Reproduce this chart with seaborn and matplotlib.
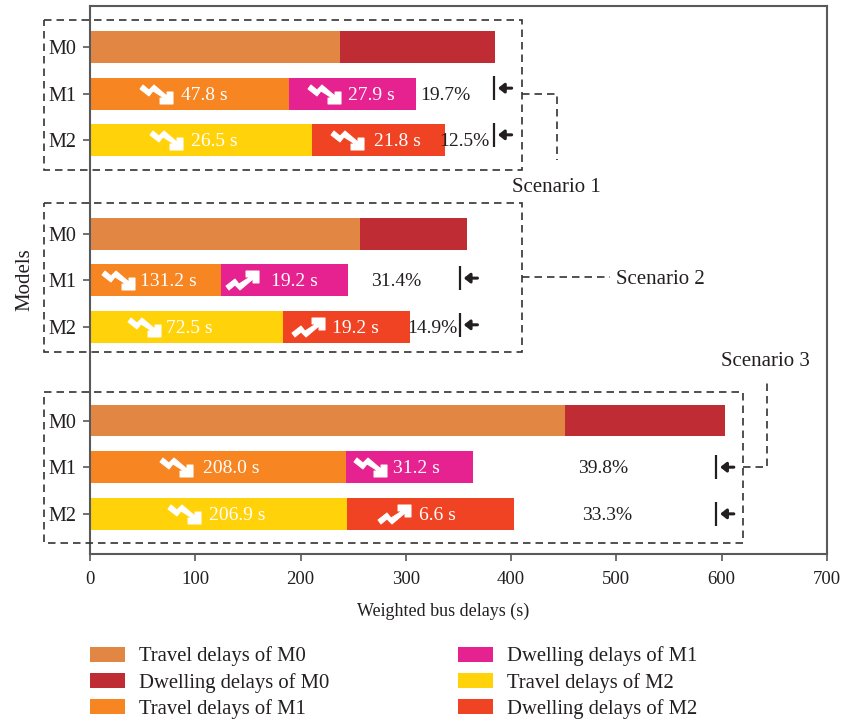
import pandas as pd
import seaborn as sns
import matplotlib.pyplot as plt
from matplotlib.patches import Patch, Rectangle
from matplotlib.path import Path

rows = [1, 2, 3, 5, 6, 7, 9, 10, 11]
models = ['M0', 'M1', 'M2'] * 3
travel = [237, 189, 211, 256, 124.5, 183, 451, 243, 244]
total = [385, 310, 337.5, 358, 245, 304, 603, 364, 403]

labels = ['Travel delays of M0', 'Dwelling delays of M0', 'Travel delays of M1',
          'Dwelling delays of M1', 'Travel delays of M2', 'Dwelling delays of M2']
colors = ['#e28743', '#c02c33', '#f68522', '#e62290', '#ffd20a', '#f04323']

# text inside the bars: row, x, string
bar_rows = [2, 2, 3, 3, 6, 6, 7, 7, 10, 10, 11, 11]
bar_x = [109, 267, 118, 292, 74.5, 194, 94, 252, 134, 310.5, 139.5, 330]
bar_text = ['47.8 s', '27.9 s', '26.5 s', '21.8 s', '131.2 s', '19.2 s',
            '72.5 s', '19.2 s', '208.0 s', '31.2 s', '206.9 s', '6.6 s']

# zigzag icons next to them
down_rows = [2, 2, 3, 3, 6, 7, 10, 10, 11]
down_x = [63, 222, 72, 244, 26.5, 51.5, 81.5, 266, 89.5]
up_rows = [6, 7, 11]
up_x = [144.5, 207, 289]

# reduction percentages
pct_rows = [2, 3, 6, 7, 10, 11]
pct_x = [337.5, 356, 291, 325.5, 487.5, 491]
pct_text = ['19.7%', '12.5%', '31.4%', '14.9%', '39.8%', '33.3%']
mark_x = [383.5, 383.5, 351, 351, 594.5, 594.5]
mark_shift = [-0.12, -0.12, -0.05, -0.05, 0, 0]

df = pd.DataFrame({'row': rows, 'model': models, 'travel': travel, 'total': total})

dark = '#231f20'
axis_col = '#58595b'
dash = (0, (4.5, 3))

sns.set_style('ticks')
plt.rcParams['font.family'] = ['Liberation Serif', 'DejaVu Serif']

fig = plt.figure(figsize=(8.44, 7.22), dpi=100)
ax = fig.add_axes([90 / 844, 1 - 554 / 722, 737 / 844, 548 / 722])

sns.barplot(data=df, x='total', y='row', hue='model', palette=dict(zip(['M0', 'M1', 'M2'], colors[1::2])),
            orient='y', native_scale=True, dodge=False, width=0.685, saturation=1, linewidth=0, legend=False, ax=ax)
sns.barplot(data=df, x='travel', y='row', hue='model', palette=dict(zip(['M0', 'M1', 'M2'], colors[0::2])),
            orient='y', native_scale=True, dodge=False, width=0.685, saturation=1, linewidth=0, legend=False, ax=ax)

ax.set_xlim(0, 700)
ax.set_ylim(11.86, 0.12)
ax.set_xticks(range(0, 701, 100))
ax.set_yticks(rows)
ax.set_yticklabels(models)
ax.tick_params(axis='x', labelsize=13.5, colors=dark, color=axis_col, width=1.2, length=5, pad=7.5)
ax.tick_params(axis='y', labelsize=14.5, colors=dark, color=axis_col, width=1.2, length=5, pad=4.5)
for s in ax.spines.values():
    s.set_color(axis_col)
    s.set_linewidth(1.5)
ax.set_xlabel('Weighted bus delays (s)', fontsize=13, color=dark)
ax.set_ylabel('Models', fontsize=15, color=dark)
ax.xaxis.set_label_coords(0.479, -0.089)
ax.yaxis.set_label_coords(-0.076, 0.5)

# icons, drawn with a custom marker
shape = [(3, 0), (9, 5), (14, 0), (27, 11), (27, 7), (33, 7), (33, 19), (20, 19),
         (20, 13), (24, 13), (13, 6), (9, 11), (0, 4), (3, 0)]
down_icon = Path([(x - 16.5, 9.5 - y) for x, y in shape], closed=True)
up_icon = Path([(x - 16.5, y - 9.5) for x, y in shape], closed=True)
ax.plot(down_x, down_rows, ls='', marker=down_icon, ms=23.8, mfc='white', mec='white', mew=0.7)
ax.plot(up_x, up_rows, ls='', marker=up_icon, ms=23.8, mfc='white', mec='white', mew=0.7)

for x, y, t in zip(bar_x, bar_rows, bar_text):
    ax.text(x, y + 0.03, t, color='white', fontsize=14, ha='center', va='center')
for x, y, t in zip(pct_x, pct_rows, pct_text):
    ax.text(x, y + 0.03, t, color=dark, fontsize=14, ha='center', va='center')

# markers with small arrows
for x, y, off in zip(mark_x, pct_rows, mark_shift):
    ax.plot([x, x], [y + off - 0.26, y + off + 0.26], color=dark, lw=1.6, solid_capstyle='butt')
    ax.annotate('', xy=(x + 4, y + off), xytext=(x + 17, y + off),
                arrowprops=dict(arrowstyle='-|>,head_width=0.28,head_length=0.35', lw=2.2, color=dark,
                                shrinkA=0, shrinkB=0))

# dashed scenario boxes and leaders
for x0, x1, y0, y1 in [(-43.7, 410, 0.42, 3.63), (-43.7, 410, 4.34, 7.53), (-43.7, 620, 8.39, 11.62)]:
    ax.add_patch(Rectangle((x0, y0), x1 - x0, y1 - y0, fill=False, ec='#333333', lw=1.2, ls=dash,
                           clip_on=False, zorder=5))
for xs, ys in [([410, 443.5, 443.5], [2, 2, 3.42]), ([410, 494], [5.925, 5.925]),
               ([620, 643, 643], [10, 10, 8.13])]:
    ax.plot(xs, ys, color='#333333', lw=1.2, ls=dash, clip_on=False)
ax.text(442.5, 4.0, 'Scenario 1', fontsize=15, color=dark, ha='center', va='center')
ax.text(542, 5.975, 'Scenario 2', fontsize=15, color=dark, ha='center', va='center')
ax.text(642, 7.73, 'Scenario 3', fontsize=15, color=dark, ha='center', va='center')

handles = [Patch(color=c, lw=0) for c in colors]
leg = ax.legend(handles, labels, ncol=2, loc='upper left', bbox_to_anchor=(90 / 844, 1 - 646.5 / 722),
                bbox_transform=fig.transFigure, frameon=False, fontsize=14.9, labelcolor=dark, borderpad=0,
                borderaxespad=0, handlelength=1.68, handleheight=0.77, handletextpad=0.67,
                columnspacing=6.25, labelspacing=0.3)

fig.savefig('out.png', dpi=100)
